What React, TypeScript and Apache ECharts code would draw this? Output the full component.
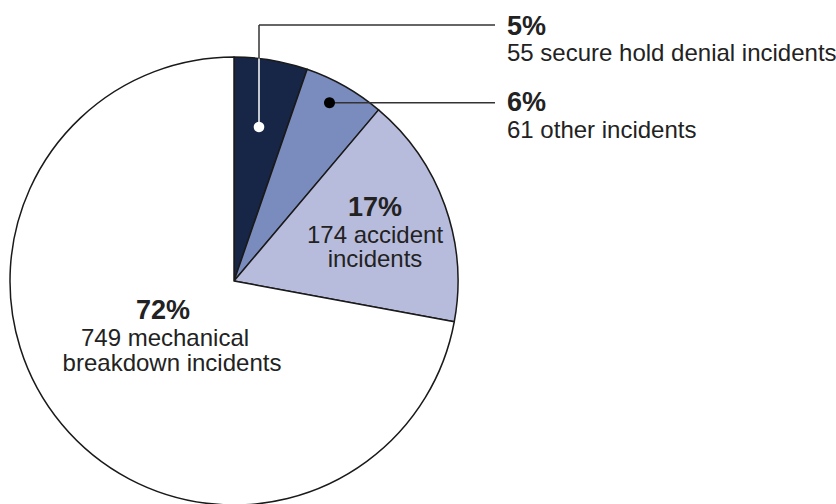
import React, { useEffect, useRef } from "react";
import * as echarts from "echarts";

const categories = ["secure hold denial incidents", "other incidents", "accident incidents", "mechanical breakdown incidents"];
const values = [55, 61, 174, 749];
const colors = ["#172647", "#7a8bbd", "#b8bcdc", "#ffffff"];

const FONT = "'Liberation Sans', Arial, Helvetica, sans-serif";
const TEXT = "#222222";
const CX = 234;
const CY = 281;
const R = 224;

function pct(i: number) {
  const total = values.reduce((a, b) => a + b, 0);
  return Math.round((values[i] / total) * 100) + "%";
}

// place text so its alphabetic baseline lands on y
function txt(text: string, x: number, baseline: number, size: number, bold: boolean, align: string) {
  return {
    type: "text",
    z: 100,
    x,
    y: baseline - size * 0.3,
    style: {
      text,
      fill: TEXT,
      font: `${bold ? "bold " : ""}${size}px ${FONT}`,
      textAlign: align,
      textVerticalAlign: "middle",
    },
  };
}

export default function App() {
  const ref = useRef<HTMLDivElement>(null);
  useEffect(() => {
    document.body.style.margin = "0";
    if (!ref.current) return;
    const chart = echarts.init(ref.current, undefined, { renderer: "svg" });
    const edgeY = CY - Math.sqrt(R * R - (259 - CX) * (259 - CX));
    const lineColor = "#333333";
    const accidentWords = categories[2].split(" ");
    const mechWords = categories[3].split(" ");
    chart.setOption({
      animation: false,
      backgroundColor: "#ffffff",
      series: [
        {
          type: "pie",
          center: [CX, CY],
          radius: R,
          startAngle: 90,
          clockwise: true,
          silent: true,
          label: { show: false },
          labelLine: { show: false },
          itemStyle: { borderColor: "#1a1a1a", borderWidth: 1.5 },
          data: values.map((v, i) => ({ value: v, name: categories[i], itemStyle: { color: colors[i] } })),
        },
      ],
      graphic: [
        { type: "line", z: 100, shape: { x1: 259, y1: 25, x2: 259, y2: edgeY }, style: { stroke: lineColor, lineWidth: 1.5 } },
        { type: "line", z: 100, shape: { x1: 259, y1: 25, x2: 495, y2: 25 }, style: { stroke: lineColor, lineWidth: 1.5 } },
        { type: "line", z: 100, shape: { x1: 259, y1: edgeY, x2: 259, y2: 127 }, style: { stroke: "#ffffff", lineWidth: 1.5 } },
        { type: "circle", z: 101, shape: { cx: 259, cy: 127, r: 5.3 }, style: { fill: "#ffffff" } },
        { type: "line", z: 100, shape: { x1: 329.5, y1: 102.7, x2: 495, y2: 102.7 }, style: { stroke: lineColor, lineWidth: 1.5 } },
        { type: "circle", z: 101, shape: { cx: 329.5, cy: 102.7, r: 5.5 }, style: { fill: "#000000" } },
        txt(pct(0), 507, 34, 27, true, "left"),
        txt(`${values[0]} ${categories[0]}`, 507, 60, 24, false, "left"),
        txt(pct(1), 507, 110, 27, true, "left"),
        txt(`${values[1]} ${categories[1]}`, 507, 137, 24, false, "left"),
        txt(pct(2), 375, 215, 27, true, "center"),
        txt(`${values[2]} ${accidentWords[0]}`, 375, 241.5, 24, false, "center"),
        txt(accidentWords.slice(1).join(" "), 375, 266, 24, false, "center"),
        txt(pct(3), 163, 318, 27, true, "center"),
        txt(`${values[3]} ${mechWords[0]}`, 165, 345, 24, false, "center"),
        txt(mechWords.slice(1).join(" "), 172, 370, 24, false, "center"),
      ],
    });
    return () => chart.dispose();
  }, []);
  return <div ref={ref} style={{ width: 836, height: 504 }} />;
}
